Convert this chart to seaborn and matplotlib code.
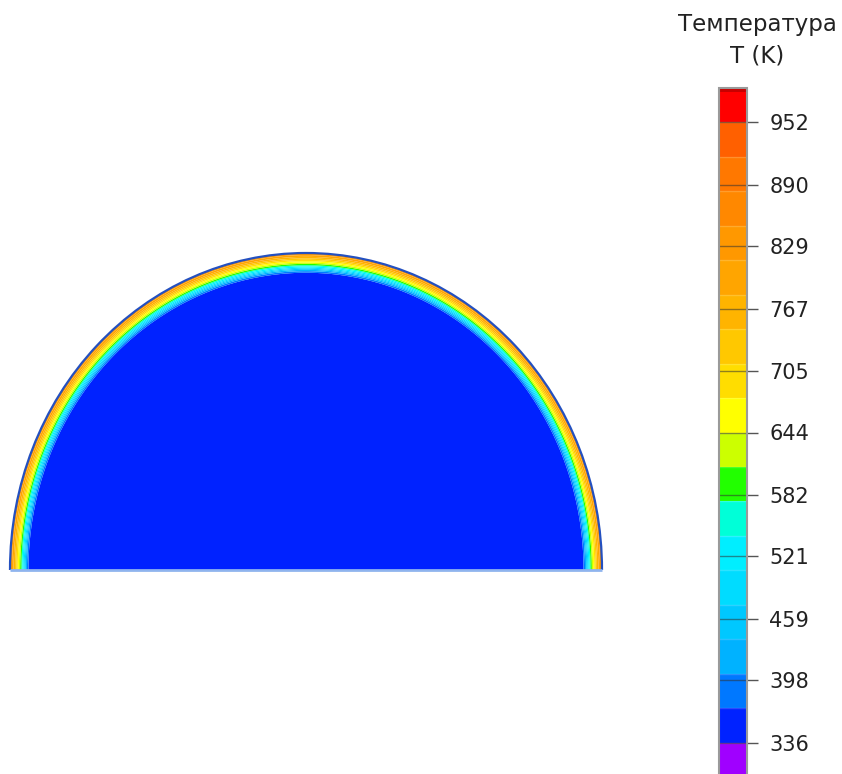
import numpy as np
import matplotlib
matplotlib.use("Agg")
import matplotlib.pyplot as plt
from matplotlib.colors import ListedColormap, BoundaryNorm
from matplotlib.patches import Arc
import seaborn as sns

sns.set_style("white")
plt.rcParams['font.family'] = ['DejaVu Sans']

# ---- data ----
title_text = "Температура\nT (K)"
tick_values = [336, 398, 459, 521, 582, 644, 705, 767, 829, 890, 952]
level_min = 301.8
level_max = 986.2
n_bands = 20
band_colors = [  # bottom -> top
    "#A000FF", "#0022FF", "#0078FF", "#00B2FF", "#00C8FF",
    "#00DCFF", "#00EEFF", "#00FFD8", "#22FF00", "#CCFF00",
    "#FFFF00", "#FFDD00", "#FFC800", "#FFB400", "#FFA500",
    "#FF9800", "#FF8800", "#FF7800", "#FF6000", "#FF0000",
]
# radial temperature profile (normalised radius -> K)
profile_r = [0.0, 0.935, 0.945, 0.953, 0.962, 0.972, 0.982, 0.992, 1.0]
profile_T = [350, 352, 420, 500, 580, 660, 740, 810, 840]

levels = np.linspace(level_min, level_max, n_bands + 1)
cmap = ListedColormap(band_colors)
norm = BoundaryNorm(levels, cmap.N)

W, H = 842, 774
fig = plt.figure(figsize=(W / 100, H / 100), dpi=100)

# main semicircle axes
ax = fig.add_axes([10 / W, (H - 570) / H, 592 / W, 317 / H])
x = np.linspace(-1, 1, 1400)
y = np.linspace(0, 1, 760)
X, Y = np.meshgrid(x, y)
R = np.sqrt(X ** 2 + Y ** 2)
T = np.interp(R, profile_r, profile_T)
T = np.ma.masked_where(R > 1.0, T)
cs = ax.contourf(X, Y, T, levels=levels, cmap=cmap, norm=norm, antialiased=True)
ax.add_patch(Arc((0, 0), 2, 2, theta1=0, theta2=180, color="#2450c0", lw=1.6, clip_on=False))
ax.plot([-1, 1], [0, 0], color="#8fb4ee", lw=2.0, clip_on=False, solid_capstyle="butt")
ax.set_xlim(-1, 1)
ax.set_ylim(0, 1)
ax.axis("off")

# colour bar
cax = fig.add_axes([719 / W, -3 / H, 28 / W, (774 - 88 + 3) / H])
cb = fig.colorbar(cs, cax=cax, ticks=tick_values)
cb.set_ticklabels([str(t) for t in tick_values])
cax.minorticks_off()
cb.outline.set_edgecolor("#9a9a9a")
cb.outline.set_linewidth(1.5)
cax.hlines(levels[1:-1], 0, 1, colors="white", alpha=0.18, lw=1.0)
cax.axhspan(level_max - 4, level_max, color="#C80000", lw=0)
cax.hlines(tick_values, 0, 1, colors="#333333", alpha=0.55, lw=1.0)
cax.tick_params(axis="y", which="major", direction="inout", length=16, width=1.0,
                color="#555555", labelsize=15, pad=8, labelcolor="#222222")
cax.set_ylim(level_min, level_max)

fig.text(757 / W, 1 - 13 / H, title_text, ha="center", va="top",
         fontsize=16.5, color="#222222", linespacing=1.45)

fig.savefig("out.png", dpi=100)
